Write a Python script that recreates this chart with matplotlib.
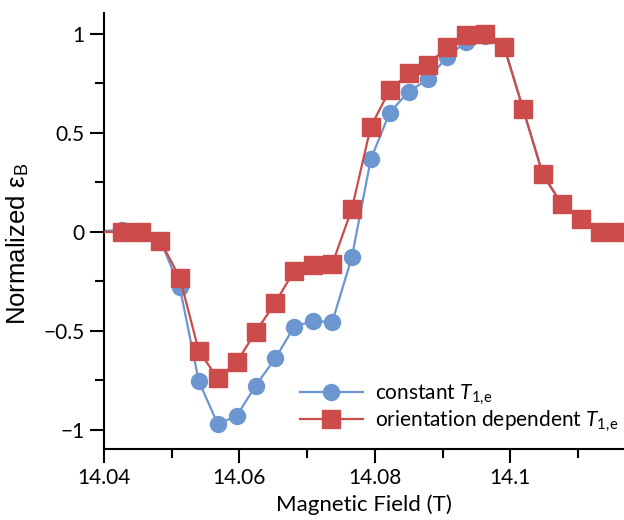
import matplotlib
matplotlib.use("Agg")
import matplotlib.pyplot as plt
from matplotlib.ticker import MultipleLocator, FixedLocator, FixedFormatter

plt.rcParams['font.family'] = ['Lato', 'DejaVu Sans']
plt.rcParams['mathtext.fontset'] = 'custom'
plt.rcParams['mathtext.rm'] = 'Lato'
plt.rcParams['mathtext.it'] = 'Lato:italic'
plt.rcParams['axes.unicode_minus'] = True

field = [14.0371, 14.0427, 14.0455, 14.0483, 14.0512, 14.0540, 14.0568,
         14.0596, 14.0624, 14.0653, 14.0681, 14.0709, 14.0737, 14.0766,
         14.0794, 14.0822, 14.0850, 14.0878, 14.0907, 14.0935, 14.0963,
         14.0991, 14.1019, 14.1048, 14.1076, 14.1104, 14.1132, 14.1160]

constant_T1e = [0.0, 0.01, 0.0, -0.04, -0.28, -0.753, -0.970, -0.929, -0.776,
                -0.638, -0.478, -0.449, -0.456, -0.128, 0.367, 0.603,
                0.709, 0.771, 0.885, 0.961, 0.99, 0.94, 0.62, 0.29,
                0.14, 0.064, 0.0, 0.0]

orientation_T1e = [0.0, 0.0, 0.0, -0.044, -0.231, -0.601, -0.739, -0.658, -0.504,
                   -0.357, -0.195, -0.167, -0.163, 0.116, 0.532, 0.717,
                   0.801, 0.843, 0.936, 0.995, 1.0, 0.933, 0.621, 0.293,
                   0.141, 0.064, 0.0, 0.0]

xticks = [14.04, 14.06, 14.08, 14.1]
xticklabels = ['14.04', '14.06', '14.08', '14.1']
yticks = [-1, -0.5, 0, 0.5, 1]
yticklabels = ['\u22121', '\u22120.5', '0', '0.5', '1']

blue = '#6B96D0'
red = '#CC4B4B'

fig = plt.figure(figsize=(6.24, 5.2), dpi=100)
ax = fig.add_axes([104/624, 71/520, 520/624, 436/520])

ax.plot(field, constant_T1e, color=blue, lw=1.6, marker='o', ms=11.5,
        mec=blue, mfc=blue, label=r'constant $\mathit{T}_{\mathregular{1,\!e}}$', zorder=2)
ax.plot(field, orientation_T1e, color=red, lw=1.6, marker='s', ms=13.5,
        mec=red, mfc=red, label=r'orientation dependent $\mathit{T}_{\mathregular{1,\!e}}$', zorder=3)

ax.set_xlim(14.04, 14.1168)
ax.set_ylim(-1.096, 1.106)

for s in ['top', 'right']:
    ax.spines[s].set_visible(False)
for s in ['left', 'bottom']:
    ax.spines[s].set_linewidth(1.5)

ax.xaxis.set_major_locator(FixedLocator(xticks))
ax.xaxis.set_major_formatter(FixedFormatter(xticklabels))
ax.xaxis.set_minor_locator(MultipleLocator(0.01))
ax.yaxis.set_major_locator(FixedLocator(yticks))
ax.yaxis.set_major_formatter(FixedFormatter(yticklabels))
ax.yaxis.set_minor_locator(MultipleLocator(0.25))

ax.tick_params(which='major', direction='out', length=10, width=1.5, labelsize=15, pad=4)
ax.tick_params(which='minor', direction='out', length=6.5, width=1.5)

ax.set_xlabel('Magnetic Field (T)', fontsize=16, labelpad=4)
ylab = ax.set_ylabel('Normalized \u03b5$_{\\mathregular{B}}$', fontsize=18.5,
                     family=['Liberation Sans', 'DejaVu Sans'])
ax.yaxis.set_label_coords(-0.14, 0.47)

leg = ax.legend(loc='lower left', bbox_to_anchor=(0.377, 0.035), frameon=False,
                fontsize=15, handlelength=3.0, handletextpad=0.6, labelspacing=0.08,
                borderpad=0, borderaxespad=0)

fig.savefig('out.png', dpi=100)
